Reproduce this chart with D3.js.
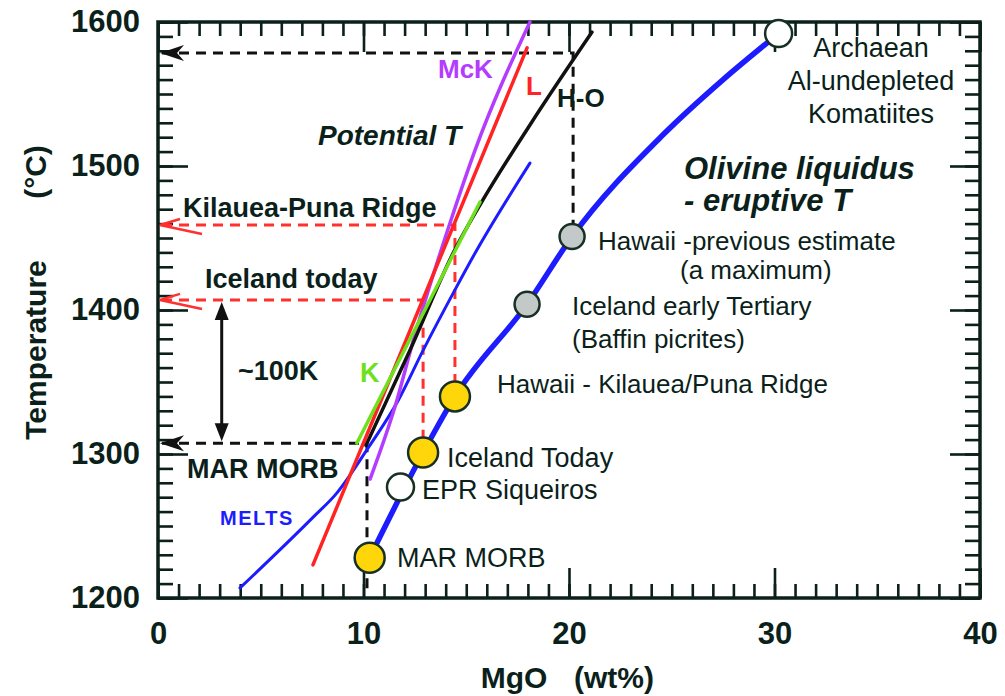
<!DOCTYPE html>
<html>
<head>
<meta charset="utf-8">
<script src="https://cdn.jsdelivr.net/npm/d3@7"></script>
<style>
  body { margin: 0; background: #fff; }
  svg { display: block; font-family: "Liberation Sans", Arial, sans-serif; }
</style>
</head>
<body>
<div id="chart"></div>
<script>
// ---- data ----
const xTicks = [0, 10, 20, 30, 40];
const yTicks = [1200, 1300, 1400, 1500, 1600];

// olivine liquidus - eruptive T (thick blue)
const olivineLiquidus = [[10.3, 1228], [12.9, 1301], [14.45, 1340], [17.96, 1404], [20.15, 1451], [24.6, 1522], [27.5, 1560], [30.2, 1592]];
// MELTS (thin blue)
const melts = [[3.99, 1207], [7.54, 1256], [8.71, 1273], [10.17, 1303], [11.68, 1337], [12.9, 1372], [14.45, 1414], [15.33, 1437], [18.1, 1502]];
// potential T curves
const lineL = [[7.54, 1223], [17.96, 1582]];
const lineK = [[9.68, 1307.6], [15.67, 1475]];
const lineHO = [[10.12, 1306], [12.26, 1372], [14.45, 1442], [15.67, 1473], [18.1, 1528.5], [21.12, 1593]];
const lineMcK = [[10.32, 1282.6], [11.63, 1337.5], [12.36, 1375.7], [14.21, 1460.4], [15.43, 1511], [18.1, 1600]];

// samples on the liquidus
const sampleMgO = [10.3, 11.8, 12.9, 14.45, 17.96, 20.15, 30.2];
const sampleT = [1228, 1277, 1301, 1340, 1404, 1451, 1592];
const sampleKind = ["yellow", "white", "yellow", "yellow", "grey", "grey", "white"];

// dashed read-off lines: potential T and the MgO they come from
const guideT = [1578.5, 1459, 1407, 1307.5];
const guideMgO = [20.2, 14.45, 12.9, 10.17];
const guideEndT = [1451, 1340, 1301, 1203];
const guideColor = ["black", "red", "red", "black"];

// ---- layout ----
const W = 1005, H = 696;
const x = d3.scaleLinear().domain([0, 40]).range([158, 980]);
const y = d3.scaleLinear().domain([1200, 1600]).range([598, 22]);

const ink = "#0b1f1b";
const cols = {
  blue: "#1c1cff", red: "#ff2323", purple: "#b43cff", green: "#6fe01c", black: "#111",
  yellow: "#ffd60a", grey: "#c3c8c8", white: "#fff"
};

const svg = d3.select("#chart").append("svg")
  .attr("width", W).attr("height", H);

// ticks (inside the frame)
function ticks(axis, tr, vals, size, labels) {
  const g = svg.append("g").attr("transform", tr)
    .call(axis.tickValues(vals).tickSize(size).tickFormat(labels ? d3.format("d") : ""));
  g.select(".domain").remove();
  g.selectAll(".tick line").attr("stroke", ink).attr("stroke-width", 2.6);
  return g;
}
const xMinor = d3.range(0, 41);
const yMinor = d3.range(1200, 1601, 10);

ticks(d3.axisBottom(x), "translate(0,598)", xMinor, -14, false);
const gx = ticks(d3.axisBottom(x).tickPadding(24), "translate(0,598)", xTicks, -30, true);
ticks(d3.axisTop(x), "translate(0,22)", xMinor, -14, false);
ticks(d3.axisTop(x), "translate(0,22)", xTicks, -30, false);
ticks(d3.axisLeft(y), "translate(158,0)", yMinor, -15, false);
const gy = ticks(d3.axisLeft(y).tickPadding(18), "translate(158,0)", yTicks, -30, true);
ticks(d3.axisRight(y), "translate(980,0)", yMinor, -15, false);
ticks(d3.axisRight(y), "translate(980,0)", yTicks, -30, false);

[gx, gy].forEach(g => g.selectAll("text")
  .attr("fill", ink).style("font-size", "31px").style("font-weight", "bold")
  .style("font-family", "'Liberation Sans', Arial, sans-serif"));

// frame
svg.append("rect")
  .attr("x", x(0)).attr("y", y(1600))
  .attr("width", x(40) - x(0)).attr("height", y(1200) - y(1600))
  .attr("fill", "none").attr("stroke", ink).attr("stroke-width", 3.5);

// dashed guides
guideT.forEach((t, i) => {
  const c = guideColor[i] === "red" ? "#ff3030" : "#111";
  svg.append("path")
    .attr("d", `M${x(0) + 4},${y(t)}H${x(guideMgO[i])}V${y(guideEndT[i])}`)
    .attr("fill", "none").attr("stroke", c).attr("stroke-width", 3)
    .attr("stroke-dasharray", "10,7");
});

// arrowheads on the T axis
guideT.forEach((t, i) => {
  const tx = x(0) + 2, ty = y(t);
  if (guideColor[i] === "black") {
    svg.append("path")
      .attr("d", `M${tx},${ty}L${tx + 24},${ty - 8}L${tx + 17},${ty}L${tx + 24},${ty + 8}Z`)
      .attr("fill", "#111");
  } else {
    svg.append("path")
      .attr("d", `M${tx + 20},${ty - 6}L${tx},${ty}L${tx + 42},${ty + 9}`)
      .attr("fill", "none").attr("stroke", "#ff3030").attr("stroke-width", 2.5);
  }
});

// ~100K double arrow
const ax = x(3.1), a1 = y(guideT[2]) + 2, a2 = y(guideT[3]) - 2;
svg.append("line").attr("x1", ax).attr("x2", ax).attr("y1", a1 + 10).attr("y2", a2 - 10)
  .attr("stroke", "#111").attr("stroke-width", 3);
svg.append("path").attr("d", `M${ax},${a1}L${ax - 7},${a1 + 18}L${ax + 7},${a1 + 18}Z`).attr("fill", "#111");
svg.append("path").attr("d", `M${ax},${a2}L${ax - 7},${a2 - 18}L${ax + 7},${a2 - 18}Z`).attr("fill", "#111");

// curves
const line = d3.line().x(d => x(d[0])).y(d => y(d[1])).curve(d3.curveMonotoneX);
function curve(data, color, w) {
  svg.append("path").datum(data).attr("d", line)
    .attr("fill", "none").attr("stroke", color).attr("stroke-width", w)
    .attr("stroke-linecap", "round").attr("stroke-linejoin", "round");
}
curve(melts, cols.blue, 3);
curve(lineMcK, cols.purple, 3.5);
curve(lineL, cols.red, 3.5);
curve(lineHO, cols.black, 3.5);
curve(lineK, cols.green, 3.5);
curve(olivineLiquidus, cols.blue, 5.5);

// samples
svg.selectAll(".sample")
  .data(sampleMgO.map((m, i) => ({ m, t: sampleT[i], k: sampleKind[i] })))
  .enter().append("circle")
  .attr("class", "sample")
  .attr("cx", d => x(d.m)).attr("cy", d => y(d.t))
  .attr("r", d => d.k === "yellow" ? 15 : d.k === "grey" ? 12.5 : 13.5)
  .attr("fill", d => cols[d.k])
  .attr("stroke", "#163024").attr("stroke-width", 2.5);

// labels
function label(txt, px, py, o) {
  o = o || {};
  const t = svg.append("text").attr("x", px).attr("y", py)
    .attr("fill", o.color || ink)
    .style("font-size", (o.size || 27) + "px")
    .style("font-weight", o.bold ? "bold" : "normal")
    .style("font-style", o.italic ? "italic" : "normal")
    .attr("text-anchor", o.anchor || "start")
    .text(txt);
  if (o.ls) t.style("letter-spacing", o.ls + "px");
  return t;
}
label("McK", 438, 78, { bold: true, size: 26, color: cols.purple });
label("L", 526, 95, { bold: true, size: 26, color: cols.red });
label("H-O", 557, 107, { bold: true, size: 26 });
label("Potential T", 318, 145, { bold: true, italic: true, size: 28 });
label("Archaean", 871, 57, { anchor: "middle" });
label("Al-undepleted", 871, 90, { anchor: "middle" });
label("Komatiites", 871, 123, { anchor: "middle" });
label("Olivine liquidus", 684, 179, { bold: true, italic: true, size: 31 });
label("- eruptive T", 684, 211, { bold: true, italic: true, size: 31 });
label("Kilauea-Puna Ridge", 183, 217, { bold: true, size: 27 });
label("Iceland today", 205, 288, { bold: true, size: 27 });
label("~100K", 238, 380, { bold: true, size: 27 });
label("K", 360, 382, { bold: true, size: 27, color: cols.green });
label("MAR MORB", 187, 478, { bold: true, size: 27 });
label("MELTS", 220, 525, { bold: true, size: 20, color: cols.blue, ls: 1.5 });
label("Hawaii -previous estimate", 598, 250, { size: 26 });
label("(a maximum)", 680, 279, { size: 26 });
label("Iceland early Tertiary", 572, 315, { size: 26 });
label("(Baffin picrites)", 572, 348, { size: 26 });
label("Hawaii - Kilauea/Puna Ridge", 497, 393, { size: 26 });
label("Iceland Today", 447, 467);
label("EPR Siqueiros", 422, 499);
label("MAR MORB", 397, 567);

// axis titles
label("MgO", 514, 688, { bold: true, size: 30, anchor: "middle" });
label("(wt%)", 614, 688, { bold: true, size: 30, anchor: "middle" });
svg.append("text")
  .attr("transform", "translate(46,350) rotate(-90)")
  .attr("text-anchor", "middle").attr("fill", ink)
  .style("font-size", "30px").style("font-weight", "bold")
  .text("Temperature");
svg.append("text")
  .attr("transform", "translate(46,172) rotate(-90)")
  .attr("text-anchor", "middle").attr("fill", ink)
  .style("font-size", "30px").style("font-weight", "bold")
  .text("(°C)");
</script>
</body>
</html>
